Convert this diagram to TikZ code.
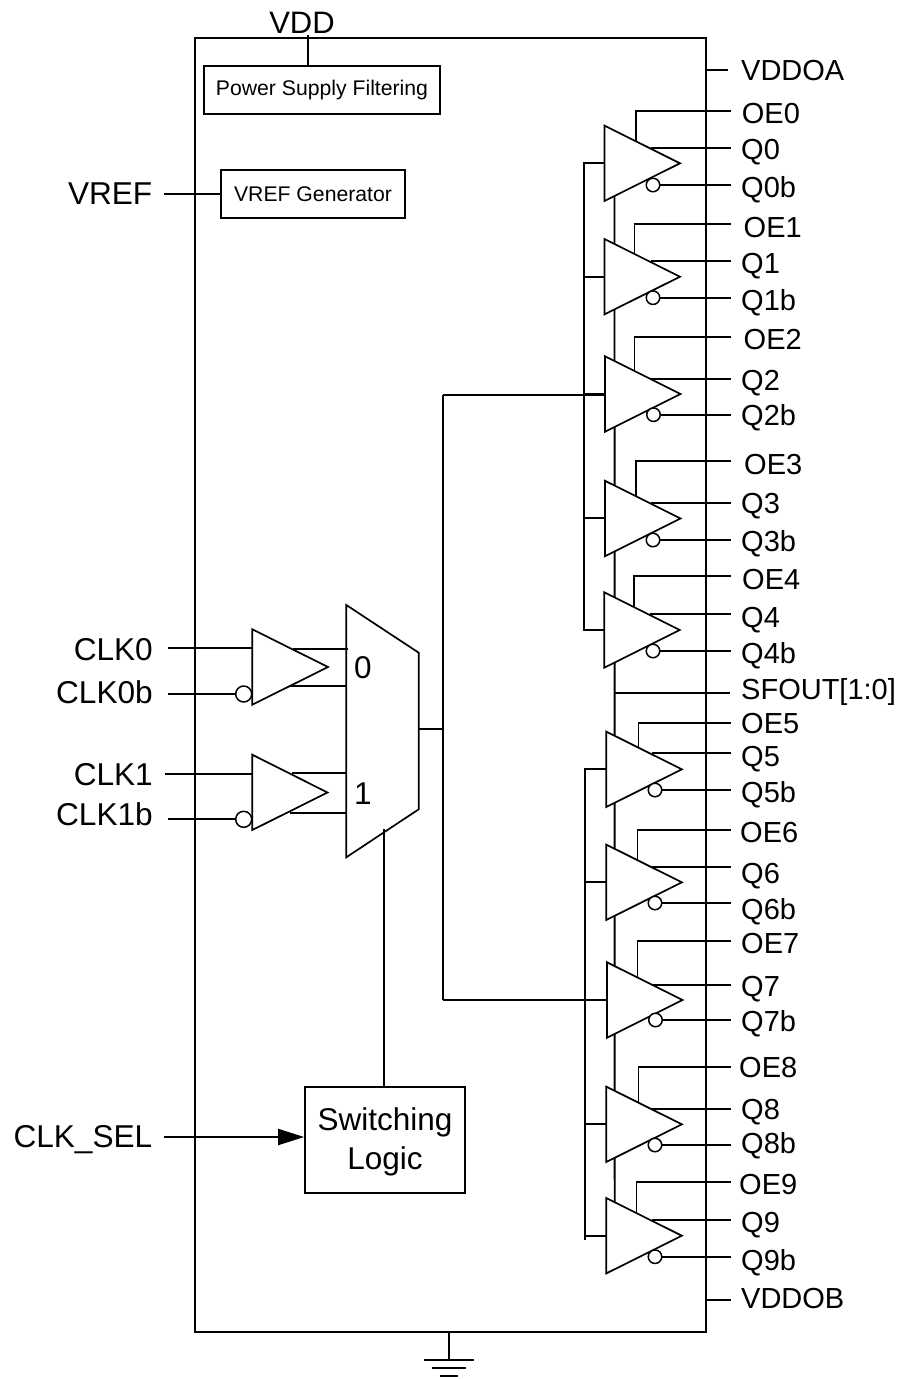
\documentclass[tikz,border=0pt]{standalone}
\usepackage{fontspec}
\setmainfont{Liberation Sans}
\usetikzlibrary{arrows.meta}
\newcommand{\fs}[1]{\fontsize{#1}{#1}\selectfont}
\tikzset{
  x=1pt,y=-1pt,
  wire/.style={draw=black,line width=1.9pt},
  tribuf/.style={draw=black,fill=white,line width=1.7pt,line join=miter},
  bubble/.style={circle,draw=black,fill=white,line width=1.5pt,inner sep=0pt,minimum size=13.5pt},
  bubbleb/.style={circle,draw=black,fill=white,line width=1.5pt,inner sep=0pt,minimum size=16pt},
  pin/.style={inner sep=0pt,anchor=base west,font=\fs{29}},
  pinl/.style={inner sep=0pt,anchor=base east,font=\fs{31.6}},
  smallbox/.style={draw=black,line width=1.7pt,inner sep=0pt,font=\fs{21.2}},
  logicbox/.style={draw=black,line width=1.7pt,inner sep=0pt,font=\fs{31.5},align=center},
}
% #1 name, #2 left x, #3 tip y, #4 OE x, #5 OE y, #6 Q y, #7 Qb y, #8 bubble x
\newcommand{\outbuf}[8]{%
  \coordinate (t#1) at (#2,#3);
  \coordinate (oe#1) at (#4,#5);
  \coordinate (oee#1) at (731,#5);
  \coordinate (oet#1) at (#4,{#3-12});
  \coordinate (qs#1) at ({#2+46},#6);
  \coordinate (qe#1) at (731,#6);
  \coordinate (qbe#1) at (731,#7);
  \draw[wire] (oet#1) -- (oe#1) -- (oee#1);
  \draw[wire] (qs#1) -- (qe#1);
  \draw[wire] (#8,#7) -- (qbe#1);
  \draw[tribuf] (#2,{#3-37.7}) -- ({#2+75.5},#3) -- (#2,{#3+37.7}) -- cycle;
  \node[bubble] (b#1) at (#8,#7) {};
}
\begin{document}
\begin{tikzpicture}
\useasboundingbox (0,0) rectangle (901,1379);
\fill[white] (0,0) rectangle (901,1379);
% main frame
\node[draw=black,line width=1.9pt,minimum width=511pt,minimum height=1294pt,inner sep=0pt,anchor=north west] (frame) at (194,37) {};
% internal buses, under the buffers
\coordinate (ibt) at (614.5,196);
\coordinate (ibb) at (614.7,1215);
\draw[wire] (ibt) -- (ibb);
\coordinate (sfa) at (614.7,692.7);
\coordinate (sfb) at (730,692.7);
\draw[wire] (sfa) -- (sfb);
\coordinate (ub1) at (583.7,163.3);
\coordinate (ub2) at (583.7,630);
\draw[wire] (605,163.3) -- (ub1) -- (ub2) -- (605,630);
\draw[wire] (583.7,276.7) -- (605,276.7);
\draw[wire] (583.7,394) -- (605,394);
\draw[wire] (583.7,518) -- (605,518);
\coordinate (lb1) at (585.3,769.3);
\coordinate (lb2) at (585.3,1239.5);
\draw[wire] (606,769.3) -- (lb1) -- (lb2);
\draw[wire] (585.3,882.3) -- (606,882.3);
\draw[wire] (585.3,1000) -- (606,1000);
\draw[wire] (585.3,1124.3) -- (606,1124.3);
\draw[wire] (585.3,1235.7) -- (606,1235.7);
% output buffers
\outbuf{0}{604.5}{163.3}{636}{111}{148}{185}{653}
\outbuf{1}{604.5}{276.7}{634.5}{224.3}{261.3}{297.7}{653}
\outbuf{2}{605}{394}{634.5}{336.7}{378.7}{414.7}{653.5}
\outbuf{3}{605}{518.5}{636}{461}{503}{540}{653}
\outbuf{4}{604.3}{630}{633.7}{576}{614.3}{651}{653}
\outbuf{5}{606.3}{769.3}{638.5}{722.7}{753.3}{790}{655}
\outbuf{6}{606.3}{882.3}{637.5}{829.7}{866.7}{903}{655}
\outbuf{7}{607}{1000}{637.5}{941}{985}{1020}{655.5}
\outbuf{8}{606.3}{1124.3}{638.5}{1066.7}{1108.7}{1145}{655}
\outbuf{9}{606.3}{1235.7}{636.5}{1181.7}{1220}{1256.7}{655}
% output labels
\foreach \t/\xx/\yy in {OE0/741.7/123.3,Q0/741/159.8,Q0b/741/197,OE1/743.5/237.7,Q1/741/273.7,Q1b/741/310,OE2/743.5/349.3,Q2/741/390.3,Q2b/741/425.3,OE3/744/474.5,Q3/741/513.5,Q3b/741/551.5,OE4/742/589.3,Q4/741/627.7,Q4b/741/663.7,OE5/741/733.3,Q5/741/766.7,Q5b/741/802.7,OE6/740/842,Q6/741/883,Q6b/741/919.5,OE7/741/953.5,Q7/741/996.5,Q7b/741/1031.5,OE8/739/1077.7,Q8/741/1119.3,Q8b/741/1153.6,OE9/739/1194.3,Q9/741/1232.7,Q9b/741/1270.3,VDDOA/741/80.5,VDDOB/741/1308}
  \node[pin] (lab\t) at (\xx,\yy) {\t};
\node[pin] (labsf) at (741,699.5) {SFOUT[1:0]};
\coordinate (vat) at (705,70);
\coordinate (vae) at (728,70);
\draw[wire] (vat) -- (vae);
\coordinate (vbt) at (705,1300);
\coordinate (vbe) at (731,1300);
\draw[wire] (vbt) -- (vbe);
% main clock line
\coordinate (mux0) at (418.7,728.7);
\coordinate (mj) at (443.3,728.7);
\coordinate (mt) at (443.3,395);
\coordinate (mb) at (443.3,1000);
\draw[wire] (mux0) -- (mj);
\draw[wire] (mt) -- (mb);
\draw[wire] (605,395) -- (mt);
\draw[wire] (607,1000) -- (mb);
% input buffers
\coordinate (cka) at (168,648.3);
\coordinate (ckb) at (168,694);
\coordinate (ckc) at (164.7,774);
\coordinate (ckd) at (168,819.3);
\draw[wire] (cka) -- (252.3,648.3);
\draw[wire] (ckc) -- (252.3,774);
\draw[wire] (293,649.3) -- (348,649.3);
\draw[wire] (290,686.3) -- (346.3,686.3);
\draw[wire] (292,773.3) -- (346.3,773.3);
\draw[wire] (290,812.7) -- (346.3,812.7);
\draw[tribuf] (252.3,629.3) -- (328,667) -- (252.3,704.7) -- cycle;
\draw[tribuf] (252.3,754.7) -- (327.5,792.5) -- (252.3,830) -- cycle;
\node[bubbleb] (ba) at (243.7,694) {};
\node[bubbleb] (bb) at (243.7,819.3) {};
\draw[wire] (ckb) -- (ba);
\draw[wire] (ckd) -- (bb);
\node[pinl] (lclk0) at (153,660.5) {CLK0};
\node[pinl] (lclk0b) at (153,703.5) {CLK0b};
\node[pinl] (lclk1) at (153,785.5) {CLK1};
\node[pinl] (lclk1b) at (153,825.5) {CLK1b};
% mux
\draw[tribuf,fill=none] (346.3,605) -- (418.7,652.7) -- (418.7,809.3) -- (346.3,857.3) -- cycle;
\node[inner sep=0pt,anchor=base,font=\fs{31.5}] (m0) at (363,678.2) {0};
\node[inner sep=0pt,anchor=base,font=\fs{31.5}] (m1) at (363,804) {1};
% switching logic
\node[logicbox,minimum width=160pt,minimum height=106pt] (sw) at (385,1140) {};
\node[inner sep=0pt,anchor=base,font=\fs{31.5}] (swa) at (385,1130) {Switching};
\node[inner sep=0pt,anchor=base,font=\fs{31.5}] (swb) at (385,1169) {Logic};
\coordinate (sel) at (384,829);
\draw[wire] (sel) -- (sw.north -| sel);
\node[pinl] (lsel) at (152.5,1147.5) {CLK\_SEL};
\coordinate (sels) at (164,1137);
\draw[wire,-{Triangle[length=26pt,width=16pt]}] (sels) -- (sw.west |- sels);
% top blocks
\node[smallbox,minimum width=236.6pt,minimum height=48pt] (pwr) at (322,89.7) {Power Supply Filtering};
\node[smallbox,minimum width=184.6pt,minimum height=48pt] (vrefg) at (313,193.7) {VREF Generator};
\node[inner sep=0pt,anchor=base,font=\fs{31}] (lvdd) at (302,33) {VDD};
\coordinate (vddt) at (308,35);
\draw[wire] (vddt) -- (pwr.north -| vddt);
\node[pinl] (lvref) at (152.5,204.5) {VREF};
\coordinate (vrs) at (164.3,193.7);
\draw[wire] (vrs) -- (vrefg.west |- vrs);
% ground
\coordinate (g0) at (449,1331);
\coordinate (g1) at (449,1360);
\draw[wire] (g0) -- (g1);
\coordinate (g1a) at (424,1360); \coordinate (g1b) at (474,1360);
\coordinate (g2a) at (432,1368); \coordinate (g2b) at (466,1368);
\coordinate (g3a) at (440,1376); \coordinate (g3b) at (458,1376);
\draw[wire] (g1a) -- (g1b);
\draw[wire] (g2a) -- (g2b);
\draw[wire] (g3a) -- (g3b);
\end{tikzpicture}
\end{document}
